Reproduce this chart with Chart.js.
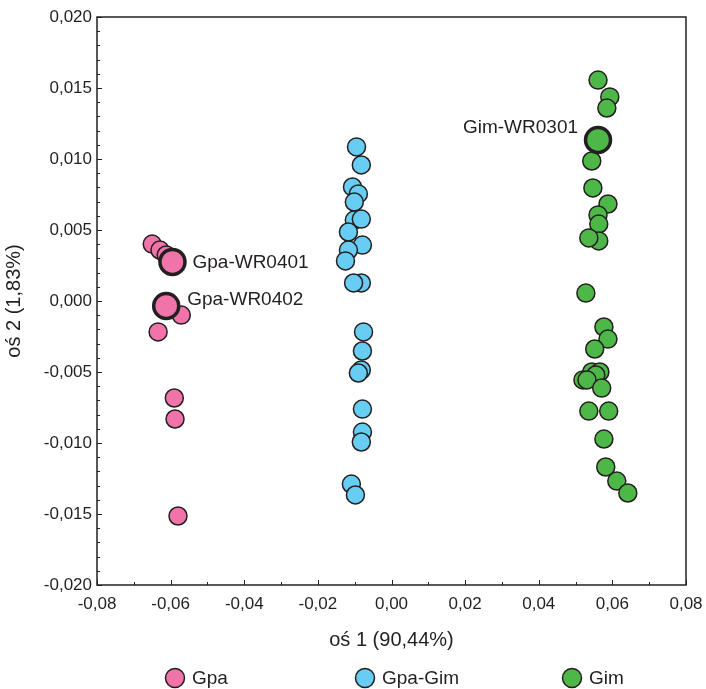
<!DOCTYPE html>
<html>
<head>
<meta charset="utf-8">
<script src="https://cdn.jsdelivr.net/npm/chart.js@4.4.0/dist/chart.umd.min.js"></script>
<style>
    html, body { margin: 0; padding: 0; background: #fff; }
</style>
</head>
<body>
<canvas id="myChart" width="706" height="689"></canvas>
<script>
// group values (oś 1, oś 2)
const gpaX = [-0.0650, -0.0629, -0.0612, -0.0571, -0.0634, -0.0590, -0.0588, -0.0580];
const gpaY = [0.00401, 0.00359, 0.00324, -0.00099, -0.00218, -0.00683, -0.00831, -0.01514];

const gpaGimX = [-0.0095, -0.0082, -0.0106, -0.0090, -0.0101, -0.0101, -0.0082, -0.0117, -0.0079, -0.0117, -0.0125,
    -0.0082, -0.0103, -0.0076, -0.0079, -0.0082, -0.0090, -0.0079, -0.0079, -0.0082, -0.0109, -0.0098];
const gpaGimY = [0.01085, 0.00958, 0.00803, 0.00754, 0.00697, 0.00570, 0.00577, 0.00486, 0.00394, 0.00359, 0.00282,
    0.00127, 0.00127, -0.00218, -0.00352, -0.00486, -0.00507, -0.00761, -0.00923, -0.00993, -0.01289, -0.01366];

const gimX = [0.0561, 0.0593, 0.0585, 0.0544, 0.0547, 0.0588, 0.0561, 0.0563, 0.0563, 0.0536, 0.0528, 0.0577, 0.0588,
    0.0552, 0.0544, 0.0566, 0.0555, 0.0520, 0.0531, 0.0571, 0.0536, 0.0590, 0.0577, 0.0582, 0.0612, 0.0642];
const gimY = [0.01556, 0.01437, 0.01359, 0.00986, 0.00796, 0.00683, 0.00606, 0.00542, 0.00423, 0.00444, 0.00056, -0.00183, -0.00268,
    -0.00338, -0.00500, -0.00500, -0.00521, -0.00556, -0.00556, -0.00613, -0.00775, -0.00775, -0.00972, -0.01169, -0.01268, -0.01352];

// highlighted samples
const namedLabels = ["Gpa-WR0401", "Gpa-WR0402", "Gim-WR0301"];
const namedGroup = [0, 0, 2];
const namedX = [-0.0595, -0.0612, 0.0561];
const namedY = [0.00275, -0.00035, 0.01134];

const groupNames = ["Gpa", "Gpa-Gim", "Gim"];
const groupColors = ["#F073A9", "#68CDF2", "#4DB748"];

const xTicks = [-0.08, -0.06, -0.04, -0.02, 0, 0.02, 0.04, 0.06, 0.08];
const yTicks = [-0.02, -0.015, -0.01, -0.005, 0, 0.005, 0.01, 0.015, 0.02];

const ink = "#231F20";
const fontFamily = "'Liberation Sans', Arial, sans-serif";

const toPoints = (xs, ys) => xs.map((x, i) => ({ x: x, y: ys[i] }));
const fmt = (v, d) => (Math.abs(v) < 1e-9 ? 0 : v).toFixed(d).replace(".", ",");

// where each name sits relative to its marker
const labelPlacement = [
    { dx: 20, dy: 1, align: "left" },
    { dx: 21, dy: -6, align: "left" },
    { dx: -20, dy: -12, align: "right" },
];

const groupDatasets = [gpaX, gpaGimX, gimX].map((xs, g) => ({
    label: groupNames[g],
    data: toPoints(xs, [gpaY, gpaGimY, gimY][g]),
    backgroundColor: groupColors[g],
    borderColor: ink,
    borderWidth: 1.5,
    pointRadius: 9,
    pointHoverRadius: 9,
    order: 1,
}));

const namedDataset = {
    label: "named",
    data: toPoints(namedX, namedY),
    backgroundColor: namedGroup.map((g) => groupColors[g]),
    borderColor: ink,
    borderWidth: 3.5,
    pointRadius: 12.5,
    pointHoverRadius: 12.5,
    order: 0,
};

const decorPlugin = {
    id: "decor",
    afterDraw(chart) {
        const ctx = chart.ctx;
        const area = chart.chartArea;
        const xs = chart.scales.x;
        const ys = chart.scales.y;
        ctx.save();
        ctx.strokeStyle = ink;
        ctx.lineWidth = 1.5;
        ctx.strokeRect(area.left, area.top, area.right - area.left, area.bottom - area.top);

        // inward ticks, minor every 0.001 / 0.01
        ctx.lineWidth = 1;
        for (let i = -20; i <= 20; i++) {
            const py = Math.round(ys.getPixelForValue(i / 1000)) + 0.5;
            const len = i % 5 === 0 ? 5 : 3;
            ctx.beginPath();
            ctx.moveTo(area.left, py);
            ctx.lineTo(area.left + len, py);
            ctx.stroke();
        }
        for (let i = -8; i <= 8; i++) {
            const px = Math.round(xs.getPixelForValue(i / 100)) + 0.5;
            const len = i % 2 === 0 ? 5 : 3;
            ctx.beginPath();
            ctx.moveTo(px, area.bottom);
            ctx.lineTo(px, area.bottom - len);
            ctx.stroke();
        }

        // sample names
        const meta = chart.getDatasetMeta(chart.data.datasets.length - 1);
        ctx.fillStyle = ink;
        ctx.font = "19px " + fontFamily;
        ctx.textBaseline = "middle";
        meta.data.forEach((pt, i) => {
            const p = labelPlacement[i];
            ctx.textAlign = p.align;
            ctx.fillText(namedLabels[i], pt.x + p.dx, pt.y + p.dy);
        });

        // legend
        const legendX = [175, 365, 572];
        const ly = chart.height - 11;
        ctx.textAlign = "left";
        groupNames.forEach((name, g) => {
            ctx.beginPath();
            ctx.arc(legendX[g], ly, 9.5, 0, Math.PI * 2);
            ctx.fillStyle = groupColors[g];
            ctx.fill();
            ctx.lineWidth = 1.5;
            ctx.strokeStyle = ink;
            ctx.stroke();
            ctx.fillStyle = ink;
            ctx.fillText(name, legendX[g] + 17, ly + 1);
        });
        ctx.restore();
    },
};

new Chart(document.getElementById("myChart").getContext("2d"), {
    type: "scatter",
    data: { datasets: [...groupDatasets, namedDataset] },
    options: {
        responsive: false,
        animation: false,
        layout: { padding: { left: 0, right: 20, top: 17, bottom: 37 } },
        plugins: {
            legend: { display: false },
            tooltip: { enabled: false },
        },
        scales: {
            x: {
                type: "linear",
                min: -0.08,
                max: 0.08,
                afterBuildTicks: (scale) => { scale.ticks = xTicks.map((v) => ({ value: v })); },
                afterFit: (scale) => {
                    scale.height = 67;
                    scale.paddingLeft = 0;
                    scale.paddingRight = 0;
                },
                grid: { display: false, drawTicks: false },
                border: { display: false },
                ticks: {
                    padding: 9,
                    color: ink,
                    font: { family: fontFamily, size: 17 },
                    callback: (v) => fmt(v, 2),
                },
                title: {
                    display: true,
                    text: "oś 1 (90,44%)",
                    color: ink,
                    font: { family: fontFamily, size: 20 },
                    padding: 0,
                },
            },
            y: {
                type: "linear",
                min: -0.02,
                max: 0.02,
                afterBuildTicks: (scale) => { scale.ticks = yTicks.map((v) => ({ value: v })); },
                afterFit: (scale) => {
                    scale.width = 97;
                    scale.paddingTop = 0;
                    scale.paddingBottom = 0;
                },
                grid: { display: false, drawTicks: false },
                border: { display: false },
                ticks: {
                    padding: 5,
                    color: ink,
                    font: { family: fontFamily, size: 17 },
                    callback: (v) => fmt(v, 3),
                },
                title: {
                    display: true,
                    text: "oś 2 (1,83%)",
                    color: ink,
                    font: { family: fontFamily, size: 20 },
                    padding: { top: 2, bottom: 0 },
                },
            },
        },
    },
    plugins: [decorPlugin],
});
</script>
</body>
</html>
